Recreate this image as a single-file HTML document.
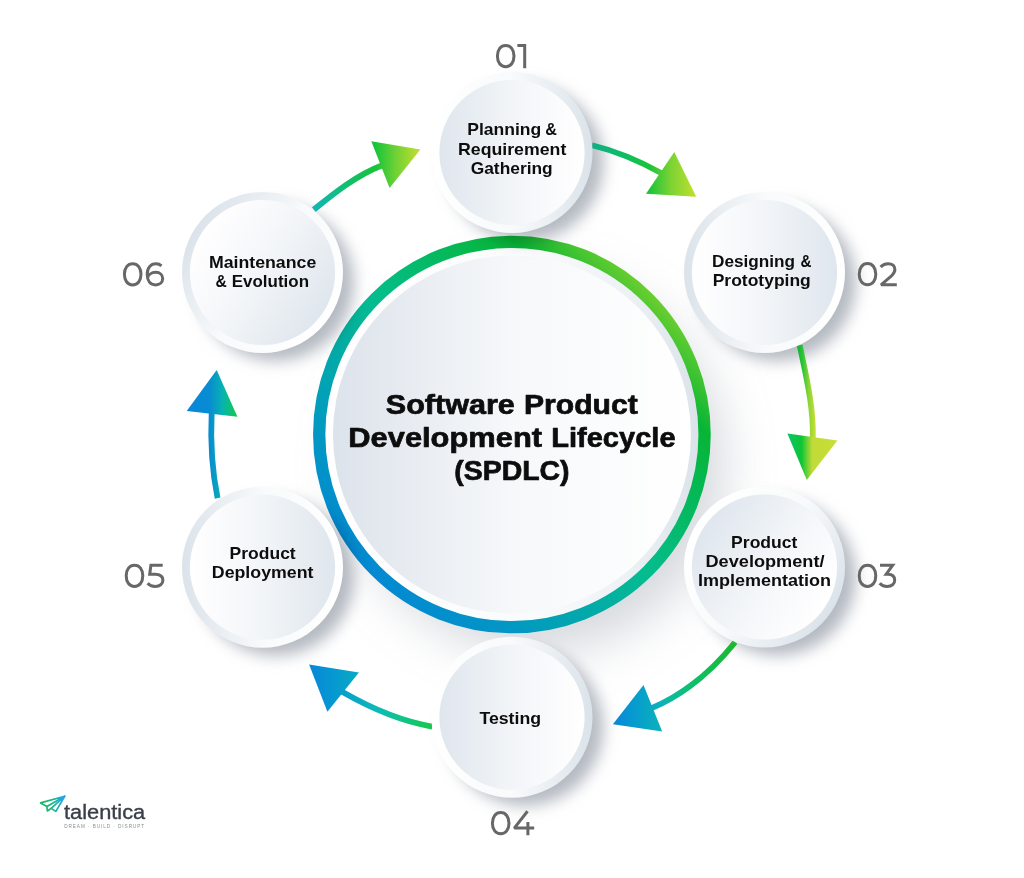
<!DOCTYPE html>
<html lang="en">
<head>
<meta charset="utf-8">
<title>Software Product Development Lifecycle (SPDLC)</title>
<style>
html,body{margin:0;padding:0;background:#fff;}
body{width:1024px;height:878px;overflow:hidden;font-family:"Liberation Sans", sans-serif;}
svg{display:block;}
</style>
</head>
<body>
<svg width="1024" height="878" viewBox="0 0 1024 878" font-family='"Liberation Sans", sans-serif'>
<defs>
<filter id="sh" x="-40%" y="-40%" width="200%" height="200%" color-interpolation-filters="sRGB"><feGaussianBlur in="SourceAlpha" stdDeviation="7.5"/><feOffset dx="13" dy="10" result="b"/><feFlood flood-color="#76808f" flood-opacity="0.54"/><feComposite in2="b" operator="in"/></filter>
<filter id="shBig" x="-40%" y="-40%" width="200%" height="200%" color-interpolation-filters="sRGB"><feGaussianBlur in="SourceAlpha" stdDeviation="25"/><feOffset dx="24" dy="30" result="b"/><feFlood flood-color="#76808f" flood-opacity="0.3"/><feComposite in2="b" operator="in"/></filter>
<linearGradient id="ag1" gradientUnits="userSpaceOnUse" x1="592.0" y1="0.0" x2="696.2" y2="0.0"><stop offset="0" stop-color="#10ae86"/><stop offset="0.33" stop-color="#0dbf5e"/><stop offset="0.55" stop-color="#1cc43a"/><stop offset="0.76" stop-color="#7dd334"/><stop offset="1" stop-color="#c2e02c"/></linearGradient>
<linearGradient id="ag2" gradientUnits="userSpaceOnUse" x1="787.4" y1="0.0" x2="837.4" y2="0.0"><stop offset="0" stop-color="#0cc468"/><stop offset="0.28" stop-color="#0bc634"/><stop offset="0.5" stop-color="#c2db38"/><stop offset="1" stop-color="#cade36"/></linearGradient>
<linearGradient id="agl2" gradientUnits="userSpaceOnUse" x1="797.0" y1="0.0" x2="815.5" y2="0.0"><stop offset="0" stop-color="#10b038"/><stop offset="0.3" stop-color="#2ac436"/><stop offset="0.65" stop-color="#8ed634"/><stop offset="1" stop-color="#c8de34"/></linearGradient>
<linearGradient id="ag3" gradientUnits="userSpaceOnUse" x1="612.9" y1="0.0" x2="735.0" y2="0.0"><stop offset="0" stop-color="#0a86d8"/><stop offset="0.2" stop-color="#069ecd"/><stop offset="0.4" stop-color="#0cb2b9"/><stop offset="0.49" stop-color="#0cbc98"/><stop offset="0.66" stop-color="#0cc068"/><stop offset="1" stop-color="#1cb82e"/></linearGradient>
<linearGradient id="ag4" gradientUnits="userSpaceOnUse" x1="309.1" y1="0.0" x2="432.2" y2="0.0"><stop offset="0" stop-color="#0986da"/><stop offset="0.2" stop-color="#0599d0"/><stop offset="0.405" stop-color="#0baac3"/><stop offset="0.57" stop-color="#0cbcb4"/><stop offset="0.745" stop-color="#0fc48a"/><stop offset="1" stop-color="#16c84c"/></linearGradient>
<linearGradient id="ag5" gradientUnits="userSpaceOnUse" x1="186.7" y1="0.0" x2="237.4" y2="0.0"><stop offset="0" stop-color="#0a86dc"/><stop offset="0.45" stop-color="#088cd2"/><stop offset="0.7" stop-color="#07b2b2"/><stop offset="0.85" stop-color="#0cc07c"/><stop offset="1" stop-color="#12c84a"/></linearGradient>
<linearGradient id="ag6" gradientUnits="userSpaceOnUse" x1="313.8" y1="0.0" x2="420.4" y2="0.0"><stop offset="0" stop-color="#12b4b4"/><stop offset="0.19" stop-color="#10bc8c"/><stop offset="0.375" stop-color="#10c060"/><stop offset="0.58" stop-color="#18c43a"/><stop offset="0.77" stop-color="#70d135"/><stop offset="1" stop-color="#c6df2e"/></linearGradient>
<linearGradient id="ci1" gradientUnits="userSpaceOnUse" x1="439.4" y1="152.5" x2="584.6" y2="152.5"><stop offset="0" stop-color="#dfe6ed"/><stop offset="0.5" stop-color="#f2f5f8"/><stop offset="0.9" stop-color="#fdfdfe"/><stop offset="1" stop-color="#ffffff"/></linearGradient>
<linearGradient id="co1" gradientUnits="userSpaceOnUse" x1="592.5" y1="152.5" x2="431.5" y2="152.5"><stop offset="0" stop-color="#dbe3ea"/><stop offset="0.5" stop-color="#f8fafb"/><stop offset="1" stop-color="#ffffff"/></linearGradient>
<linearGradient id="ci2" gradientUnits="userSpaceOnUse" x1="837.1" y1="272.5" x2="691.9" y2="272.5"><stop offset="0" stop-color="#dfe6ed"/><stop offset="0.5" stop-color="#f2f5f8"/><stop offset="0.9" stop-color="#fdfdfe"/><stop offset="1" stop-color="#ffffff"/></linearGradient>
<linearGradient id="co2" gradientUnits="userSpaceOnUse" x1="684.0" y1="272.5" x2="845.0" y2="272.5"><stop offset="0" stop-color="#dbe3ea"/><stop offset="0.5" stop-color="#f8fafb"/><stop offset="1" stop-color="#ffffff"/></linearGradient>
<linearGradient id="ci3" gradientUnits="userSpaceOnUse" x1="703.6" y1="527.4" x2="825.4" y2="606.6"><stop offset="0" stop-color="#dfe6ed"/><stop offset="0.5" stop-color="#f2f5f8"/><stop offset="0.9" stop-color="#fdfdfe"/><stop offset="1" stop-color="#ffffff"/></linearGradient>
<linearGradient id="co3" gradientUnits="userSpaceOnUse" x1="832.0" y1="610.9" x2="697.0" y2="523.1"><stop offset="0" stop-color="#dbe3ea"/><stop offset="0.5" stop-color="#f8fafb"/><stop offset="1" stop-color="#ffffff"/></linearGradient>
<linearGradient id="ci4" gradientUnits="userSpaceOnUse" x1="439.4" y1="717.2" x2="584.6" y2="717.2"><stop offset="0" stop-color="#dfe6ed"/><stop offset="0.5" stop-color="#f2f5f8"/><stop offset="0.9" stop-color="#fdfdfe"/><stop offset="1" stop-color="#ffffff"/></linearGradient>
<linearGradient id="co4" gradientUnits="userSpaceOnUse" x1="592.5" y1="717.2" x2="431.5" y2="717.2"><stop offset="0" stop-color="#dbe3ea"/><stop offset="0.5" stop-color="#f8fafb"/><stop offset="1" stop-color="#ffffff"/></linearGradient>
<linearGradient id="ci5" gradientUnits="userSpaceOnUse" x1="335.1" y1="567.2" x2="189.9" y2="567.2"><stop offset="0" stop-color="#dfe6ed"/><stop offset="0.5" stop-color="#f2f5f8"/><stop offset="0.9" stop-color="#fdfdfe"/><stop offset="1" stop-color="#ffffff"/></linearGradient>
<linearGradient id="co5" gradientUnits="userSpaceOnUse" x1="182.0" y1="567.2" x2="343.0" y2="567.2"><stop offset="0" stop-color="#dbe3ea"/><stop offset="0.5" stop-color="#f8fafb"/><stop offset="1" stop-color="#ffffff"/></linearGradient>
<linearGradient id="ci6" gradientUnits="userSpaceOnUse" x1="323.4" y1="312.1" x2="201.6" y2="232.9"><stop offset="0" stop-color="#dfe6ed"/><stop offset="0.5" stop-color="#f2f5f8"/><stop offset="0.9" stop-color="#fdfdfe"/><stop offset="1" stop-color="#ffffff"/></linearGradient>
<linearGradient id="co6" gradientUnits="userSpaceOnUse" x1="195.0" y1="228.6" x2="330.0" y2="316.4"><stop offset="0" stop-color="#dbe3ea"/><stop offset="0.5" stop-color="#f8fafb"/><stop offset="1" stop-color="#ffffff"/></linearGradient>
<linearGradient id="ring" gradientUnits="userSpaceOnUse" x1="652.3" y1="294.1" x2="371.5" y2="574.9"><stop offset="0" stop-color="#6ace2f"/><stop offset="0.15" stop-color="#06b536"/><stop offset="0.5" stop-color="#04bd8d"/><stop offset="0.85" stop-color="#0297c4"/><stop offset="1" stop-color="#0389d2"/></linearGradient>
<linearGradient id="bo" gradientUnits="userSpaceOnUse" x1="324.9" y1="0.0" x2="698.9" y2="0.0"><stop offset="0" stop-color="#ffffff"/><stop offset="0.55" stop-color="#fafbfc"/><stop offset="0.8" stop-color="#eef2f5"/><stop offset="1" stop-color="#dbe3ea"/></linearGradient>
<linearGradient id="bi" gradientUnits="userSpaceOnUse" x1="332.9" y1="0.0" x2="690.9" y2="0.0"><stop offset="0" stop-color="#dde3eb"/><stop offset="0.5" stop-color="#f6f8fa"/><stop offset="1" stop-color="#ffffff"/></linearGradient>
<linearGradient id="lg" gradientUnits="userSpaceOnUse" x1="40.0" y1="0.0" x2="65.0" y2="0.0"><stop offset="0" stop-color="#1cba55"/><stop offset="0.55" stop-color="#17b58a"/><stop offset="0.8" stop-color="#1fabcf"/><stop offset="1" stop-color="#25a5ee"/></linearGradient>
</defs>
<rect width="1024" height="878" fill="#ffffff"/>
<g id="big">
<circle cx="511.9" cy="434.5" r="188" fill="#000" filter="url(#shBig)"/>
<circle cx="511.9" cy="434.5" r="187" fill="url(#bo)"/>
<circle cx="511.9" cy="434.5" r="179" fill="url(#bi)"/>
<circle cx="511.9" cy="434.5" r="192.7" fill="none" stroke="url(#ring)" stroke-width="12.3"/>
</g>
<g id="shadows" style="mix-blend-mode:multiply">
<circle cx="512.0" cy="152.5" r="78.5" fill="#000" filter="url(#sh)"/>
<circle cx="764.5" cy="272.5" r="78.5" fill="#000" filter="url(#sh)"/>
<circle cx="764.5" cy="567.0" r="78.5" fill="#000" filter="url(#sh)"/>
<circle cx="512.0" cy="717.2" r="78.5" fill="#000" filter="url(#sh)"/>
<circle cx="262.5" cy="567.2" r="78.5" fill="#000" filter="url(#sh)"/>
<circle cx="262.5" cy="272.5" r="78.5" fill="#000" filter="url(#sh)"/>
</g>
<g id="arrows">
<path d="M592.0,145.2 C615.9,150.9 638.8,160.6 661.6,173.2" fill="none" stroke="url(#ag1)" stroke-width="5.7"/>
<polygon points="674.3,151.9 646.0,193.8 696.2,196.8" fill="url(#ag1)"/>
<path d="M799.7,345.2 C806.0,375.8 813.6,405.8 812.8,438.3" fill="none" stroke="url(#agl2)" stroke-width="5.8"/>
<polygon points="787.4,433.6 837.4,440.4 806.8,480.1" fill="url(#ag2)"/>
<path d="M735.1,642.2 C713.0,669.7 685.4,693.8 651.6,708.2" fill="none" stroke="url(#ag3)" stroke-width="5.7"/>
<polygon points="643.5,685.1 612.9,724.3 662.2,731.6" fill="url(#ag3)"/>
<path d="M432.2,726.6 C400.6,721.3 370.6,708.2 341.7,691.6" fill="none" stroke="url(#ag4)" stroke-width="5.8"/>
<polygon points="309.1,664.6 358.9,672.4 327.4,711.7" fill="url(#ag4)"/>
<path d="M217.6,498.2 C211.9,470.1 210.3,441.7 211.7,412.0" fill="none" stroke="url(#ag5)" stroke-width="5.8"/>
<polygon points="216.7,369.9 186.7,411.0 237.4,416.8" fill="url(#ag5)"/>
<path d="M313.8,209.6 C334.8,192.6 356.1,175.4 382.9,165.0" fill="none" stroke="url(#ag6)" stroke-width="5.9"/>
<polygon points="371.3,141.2 420.4,149.6 389.6,188.1" fill="url(#ag6)"/>
</g>
<g id="circles">
<circle cx="512.0" cy="152.5" r="80.5" fill="url(#co1)"/>
<circle cx="512.0" cy="152.5" r="72.6" fill="url(#ci1)"/>
<circle cx="764.5" cy="272.5" r="80.5" fill="url(#co2)"/>
<circle cx="764.5" cy="272.5" r="72.6" fill="url(#ci2)"/>
<circle cx="764.5" cy="567.0" r="80.5" fill="url(#co3)"/>
<circle cx="764.5" cy="567.0" r="72.6" fill="url(#ci3)"/>
<circle cx="512.0" cy="717.2" r="80.5" fill="url(#co4)"/>
<circle cx="512.0" cy="717.2" r="72.6" fill="url(#ci4)"/>
<circle cx="262.5" cy="567.2" r="80.5" fill="url(#co5)"/>
<circle cx="262.5" cy="567.2" r="72.6" fill="url(#ci5)"/>
<circle cx="262.5" cy="272.5" r="80.5" fill="url(#co6)"/>
<circle cx="262.5" cy="272.5" r="72.6" fill="url(#ci6)"/>
</g>
<g id="text" opacity="0.999">
<text x="385.8" y="414.0" font-size="27.3" font-weight="bold" fill="#0d0d0d" stroke="#0d0d0d" stroke-width="0.7" stroke-linejoin="round" textLength="129.0" lengthAdjust="spacingAndGlyphs">Software</text>
<text x="524.0" y="414.0" font-size="27.3" font-weight="bold" fill="#0d0d0d" stroke="#0d0d0d" stroke-width="0.7" stroke-linejoin="round" textLength="113.8" lengthAdjust="spacingAndGlyphs">Product</text>
<text x="348.3" y="446.9" font-size="27.3" font-weight="bold" fill="#0d0d0d" stroke="#0d0d0d" stroke-width="0.7" stroke-linejoin="round" textLength="193.7" lengthAdjust="spacingAndGlyphs">Development</text>
<text x="551.2" y="446.9" font-size="27.3" font-weight="bold" fill="#0d0d0d" stroke="#0d0d0d" stroke-width="0.7" stroke-linejoin="round" textLength="124.4" lengthAdjust="spacingAndGlyphs">Lifecycle</text>
<text x="454.3" y="479.9" font-size="27.3" font-weight="bold" fill="#0d0d0d" stroke="#0d0d0d" stroke-width="0.7" stroke-linejoin="round" textLength="115.3" lengthAdjust="spacingAndGlyphs">(SPDLC)</text>
<text x="467.2" y="135.4" font-size="15.7" font-weight="bold" fill="#0d0d0d" textLength="74.1" lengthAdjust="spacingAndGlyphs">Planning</text>
<text x="545.2" y="135.4" font-size="15.7" font-weight="bold" fill="#0d0d0d" textLength="11.7" lengthAdjust="spacingAndGlyphs">&amp;</text>
<text x="458.0" y="154.7" font-size="15.7" font-weight="bold" fill="#0d0d0d" textLength="108.3" lengthAdjust="spacingAndGlyphs">Requirement</text>
<text x="470.7" y="173.5" font-size="15.7" font-weight="bold" fill="#0d0d0d" textLength="82.0" lengthAdjust="spacingAndGlyphs">Gathering</text>
<text x="712.1" y="266.9" font-size="15.7" font-weight="bold" fill="#0d0d0d" textLength="83.0" lengthAdjust="spacingAndGlyphs">Designing</text>
<text x="800.6" y="266.9" font-size="15.7" font-weight="bold" fill="#0d0d0d" textLength="11.0" lengthAdjust="spacingAndGlyphs">&amp;</text>
<text x="712.7" y="286.0" font-size="15.7" font-weight="bold" fill="#0d0d0d" textLength="98.1" lengthAdjust="spacingAndGlyphs">Prototyping</text>
<text x="731.1" y="548.4" font-size="15.7" font-weight="bold" fill="#0d0d0d" textLength="66.3" lengthAdjust="spacingAndGlyphs">Product</text>
<text x="705.5" y="567.3" font-size="15.7" font-weight="bold" fill="#0d0d0d" textLength="119.0" lengthAdjust="spacingAndGlyphs">Development/</text>
<text x="697.9" y="586.2" font-size="15.7" font-weight="bold" fill="#0d0d0d" textLength="133.0" lengthAdjust="spacingAndGlyphs">Implementation</text>
<text x="479.4" y="724.4" font-size="15.7" font-weight="bold" fill="#0d0d0d" textLength="61.7" lengthAdjust="spacingAndGlyphs">Testing</text>
<text x="229.6" y="558.7" font-size="15.7" font-weight="bold" fill="#0d0d0d" textLength="66.1" lengthAdjust="spacingAndGlyphs">Product</text>
<text x="211.8" y="577.8" font-size="15.7" font-weight="bold" fill="#0d0d0d" textLength="101.7" lengthAdjust="spacingAndGlyphs">Deployment</text>
<text x="208.9" y="268.3" font-size="15.7" font-weight="bold" fill="#0d0d0d" textLength="107.4" lengthAdjust="spacingAndGlyphs">Maintenance</text>
<text x="215.6" y="287.4" font-size="15.7" font-weight="bold" fill="#0d0d0d" textLength="11.3" lengthAdjust="spacingAndGlyphs">&amp;</text>
<text x="231.8" y="287.4" font-size="15.7" font-weight="bold" fill="#0d0d0d" textLength="77.2" lengthAdjust="spacingAndGlyphs">Evolution</text>
<g fill="none" stroke="#676767" stroke-width="3.0" stroke-linejoin="miter"><g transform="translate(495.9,68.2)"><path d="M1.5,-12.1 C1.5,-18.46 4.82,-22.7 9.8,-22.7 C14.780000000000001,-22.7 18.1,-18.46 18.1,-12.1 C18.1,-5.74 14.780000000000001,-1.5 9.8,-1.5 C4.82,-1.5 1.5,-5.74 1.5,-12.1Z"/></g><g transform="translate(517.4,68.2)"><path d="M0,-22.7 H7.3 V0"/></g></g>
<g fill="none" stroke="#676767" stroke-width="3.0" stroke-linejoin="miter"><g transform="translate(857.7,286.3)"><path d="M1.5,-12.1 C1.5,-18.46 4.82,-22.7 9.8,-22.7 C14.780000000000001,-22.7 18.1,-18.46 18.1,-12.1 C18.1,-5.74 14.780000000000001,-1.5 9.8,-1.5 C4.82,-1.5 1.5,-5.74 1.5,-12.1Z"/></g><g transform="translate(879.5,286.3)"><path stroke-miterlimit="2" d="M1.1,-19.3 C2.9,-21.5 5.5,-22.65 8.6,-22.65 C12.8,-22.65 15.4,-20.4 15.4,-16.9 C15.4,-14.5 14.3,-12.7 11.7,-10.1 L1.5,-1.5 H17.3"/></g></g>
<g fill="none" stroke="#676767" stroke-width="3.0" stroke-linejoin="miter"><g transform="translate(857.7,587.9)"><path d="M1.5,-12.1 C1.5,-18.46 4.82,-22.7 9.8,-22.7 C14.780000000000001,-22.7 18.1,-18.46 18.1,-12.1 C18.1,-5.74 14.780000000000001,-1.5 9.8,-1.5 C4.82,-1.5 1.5,-5.74 1.5,-12.1Z"/></g><g transform="translate(878.8,587.9)"><path d="M1.2,-22.7 H13.9 L7.4,-13.7 H9.2 C13.6,-13.7 15.9,-11.2 15.9,-7.7 C15.9,-3.9 12.9,-1.5 8.4,-1.5 C5.1,-1.5 2.4,-2.7 0.9,-4.6"/></g></g>
<g fill="none" stroke="#676767" stroke-width="3.0" stroke-linejoin="miter"><g transform="translate(490.9,835.3)"><path d="M1.5,-12.1 C1.5,-18.46 4.82,-22.7 9.8,-22.7 C14.780000000000001,-22.7 18.1,-18.46 18.1,-12.1 C18.1,-5.74 14.780000000000001,-1.5 9.8,-1.5 C4.82,-1.5 1.5,-5.74 1.5,-12.1Z"/></g><g transform="translate(512.9,835.3)"><path stroke-miterlimit="2" d="M14.6,-24.0 L1.4,-7.2 H21.3 M15.0,-13.4 V0"/></g></g>
<g fill="none" stroke="#676767" stroke-width="3.0" stroke-linejoin="miter"><g transform="translate(124.7,587.9)"><path d="M1.5,-12.1 C1.5,-18.46 4.82,-22.7 9.8,-22.7 C14.780000000000001,-22.7 18.1,-18.46 18.1,-12.1 C18.1,-5.74 14.780000000000001,-1.5 9.8,-1.5 C4.82,-1.5 1.5,-5.74 1.5,-12.1Z"/></g><g transform="translate(146.5,587.9)"><path d="M16.2,-22.7 H4.4 L3.2,-13.7 H8.4 C14.0,-13.7 16.4,-11.3 16.4,-7.7 C16.4,-3.9 13.3,-1.5 8.8,-1.5 C5.4,-1.5 2.7,-2.7 1.1,-4.6"/></g></g>
<g fill="none" stroke="#676767" stroke-width="3.0" stroke-linejoin="miter"><g transform="translate(122.9,286.4)"><path d="M1.5,-12.1 C1.5,-18.46 4.82,-22.7 9.8,-22.7 C14.780000000000001,-22.7 18.1,-18.46 18.1,-12.1 C18.1,-5.74 14.780000000000001,-1.5 9.8,-1.5 C4.82,-1.5 1.5,-5.74 1.5,-12.1Z"/></g><g transform="translate(145.7,286.4)"><path d="M15.8,-20.6 C14.4,-21.9 12.5,-22.65 10.3,-22.65 C4.9,-22.65 1.5,-18.6 1.5,-11.9 C1.5,-5.3 4.7,-1.5 9.8,-1.5 C13.9,-1.5 17.0,-4.1 17.0,-7.9 C17.0,-11.6 14.1,-14.1 10.1,-14.1 C5.7,-14.1 2.3,-11.4 1.7,-7.8"/></g></g>
</g>
<g id="logo" opacity="0.999">
<g fill="none" stroke="url(#lg)" stroke-width="1.7" stroke-linejoin="round" stroke-linecap="round"><path d="M64.7,796.2 L40.6,802.9 L46.9,806.6 Z"/><path d="M46.9,806.6 L47.4,811.0 L51.2,808.4"/><path d="M64.7,796.2 L51.2,808.4 L55.9,811.4 Z"/></g>
<text x="64.0" y="819.4" font-size="19.6" fill="#3a3e48" stroke="#3a3e48" stroke-width="0.35" textLength="81.2" lengthAdjust="spacingAndGlyphs">talentica</text>
<text x="64.2" y="827.9" font-size="4.7" fill="#8b8d92" textLength="80.0" lengthAdjust="spacing">DREAM · BUILD · DISRUPT</text>
</g>
</svg>
</body>
</html>
